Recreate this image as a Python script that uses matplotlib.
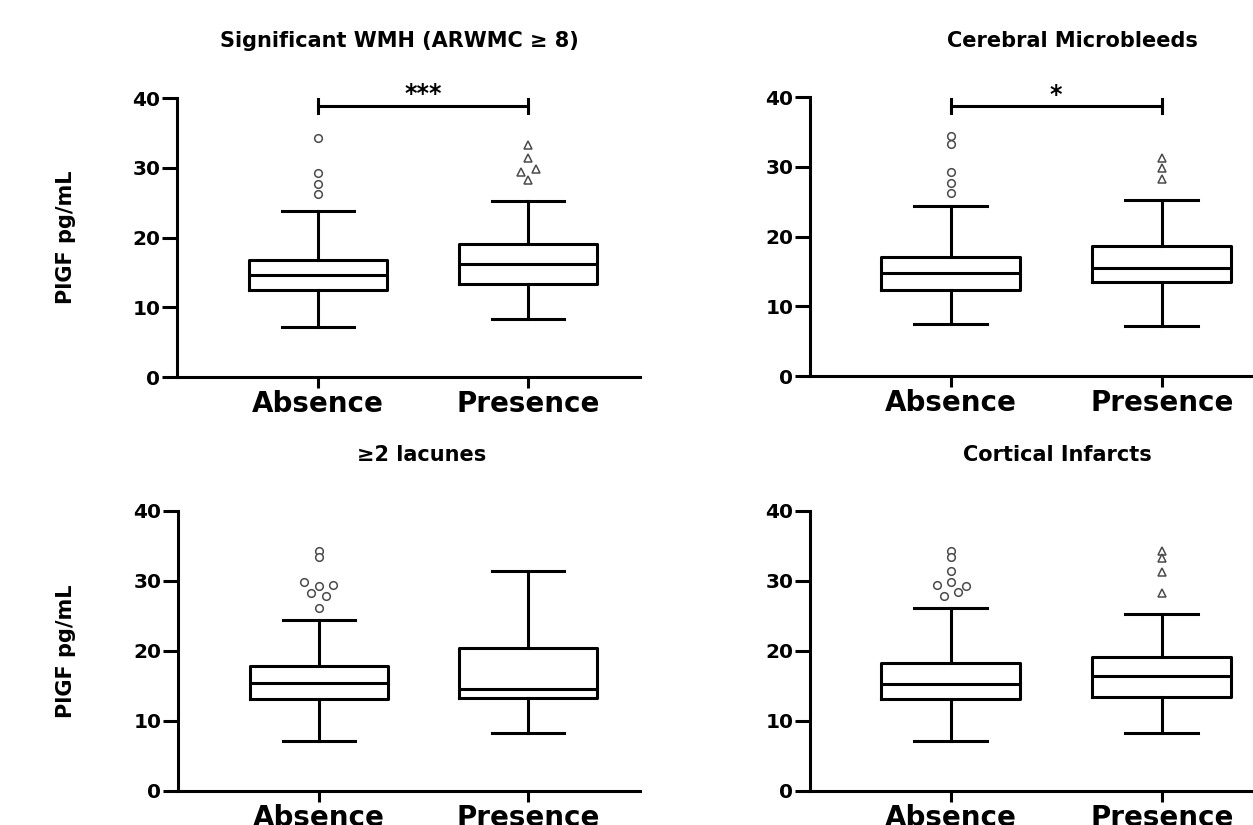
import numpy as np
import matplotlib.pyplot as plt

W, H = 1253, 825
plt.rcParams['font.family'] = ['DejaVu Sans']
plt.rcParams['font.weight'] = 'bold'

# ---------------------------------------------------------------- data
groups = ["Absence", "Presence"]
titles = ["Significant WMH (ARWMC \u2265 8)", "Cerebral Microbleeds",
          "\u22652 lacunes", "Cortical Infarcts"]
stars = ["***", "*", None, None]
sig_y = [38.9, 38.7, None, None]

# box stats per panel, [absence, presence]
q1 = [[12.5, 13.4], [12.4, 13.5], [13.1, 13.3], [13.1, 13.5]]
med = [[14.6, 16.2], [14.8, 15.5], [15.4, 14.6], [15.3, 16.5]]
q3 = [[16.8, 19.0], [17.1, 18.7], [17.9, 20.5], [18.3, 19.1]]
whislo = [[7.2, 8.3], [7.4, 7.1], [7.2, 8.3], [7.1, 8.3]]
whishi = [[23.8, 25.3], [24.4, 25.2], [24.4, 31.5], [26.2, 25.3]]
fliers = [
    [[34.3, 29.2, 27.7, 26.2], [33.3, 31.4, 29.8, 29.4, 28.3]],
    [[34.4, 33.3, 29.2, 27.6, 26.2], [31.3, 29.8, 28.2]],
    [[34.3, 33.4, 29.9, 29.5, 29.3, 28.3, 27.8, 26.2], []],
    [[34.3, 33.4, 31.5, 29.9, 29.5, 29.3, 28.4, 27.8], [34.3, 33.3, 31.3, 28.3]],
]

# ---------------------------------------------------------------- layout / style
# horizontal spread of overlapping outliers (in category units)
flier_dx = [
    [[0, 0, 0, 0], [0, 0, 0.038, -0.033, 0]],
    [[0, 0, 0, 0, 0], [0, 0, 0]],
    [[0, 0, -0.073, 0.065, 0, -0.038, 0.032, 0], []],
    [[0, 0, 0, 0, -0.066, 0.071, 0.036, -0.032], [0, 0, 0, 0]],
]
# axes in pixels: left, top, right, bottom ; category centres in pixels
rects = [(177, 98, 640, 377), (810, 97, 1314, 376),
         (178, 511, 640, 791), (810, 511, 1314, 791)]
cat_px = [(318, 528), (950.7, 1161.7), (319, 528), (950.7, 1161.7)]
title_pos = [(399, 47), (1072, 47), (422, 461), (1057, 461)]
markers = ['o', '^']
lw = 2.2

fig = plt.figure(figsize=(W / 100, H / 100), dpi=100)

for i in range(4):
    l, t, r, b = rects[i]
    c0, c1 = cat_px[i]
    ax = fig.add_axes([l / W, 1 - b / H, (r - l) / W, (b - t) / H])

    stats = []
    for g in range(2):
        stats.append({'med': med[i][g], 'q1': q1[i][g], 'q3': q3[i][g],
                      'whislo': whislo[i][g], 'whishi': whishi[i][g], 'fliers': []})
    ax.bxp(stats, positions=[0, 1], widths=0.66, capwidths=0.346, showfliers=False,
           boxprops=dict(color='black', linewidth=lw),
           whiskerprops=dict(color='black', linewidth=lw),
           capprops=dict(color='black', linewidth=lw),
           medianprops=dict(color='black', linewidth=lw, solid_capstyle='butt'))

    for g in range(2):
        if fliers[i][g]:
            xs = g + np.array(flier_dx[i][g])
            ax.plot(xs, fliers[i][g], linestyle='none', marker=markers[g],
                    markersize=5.5, markerfacecolor='white', markeredgecolor='#4a4a4a',
                    markeredgewidth=1.1, zorder=3)

    if stars[i]:
        yb = sig_y[i]
        ax.plot([0, 1], [yb, yb], color='black', lw=lw, clip_on=False)
        ax.plot([0, 0], [yb - 1.0, yb + 1.0], color='black', lw=lw, clip_on=False)
        ax.plot([1, 1], [yb - 1.0, yb + 1.0], color='black', lw=lw, clip_on=False)
        ax.text(0.5, yb + 0.6, stars[i], ha='center', va='baseline', fontsize=17,
                fontweight='bold', clip_on=False)

    ax.set_xlim((l - c0) / (c1 - c0), (r - c0) / (c1 - c0))
    ax.set_ylim(0, 40)
    ax.set_yticks([0, 10, 20, 30, 40])
    ax.set_xticks([0, 1])
    ax.set_xticklabels(groups)
    for s in ['top', 'right']:
        ax.spines[s].set_visible(False)
    for s in ['left', 'bottom']:
        ax.spines[s].set_linewidth(lw)
    ax.tick_params(axis='y', length=10.5, width=lw, pad=1.5, labelsize=14.5)
    ax.tick_params(axis='x', length=8, width=lw, pad=1, labelsize=20)

    tx, ty = title_pos[i]
    fig.text(tx / W, 1 - ty / H, titles[i], ha='center', va='baseline',
             fontsize=15, fontweight='bold')

    if i % 2 == 0:
        fig.text(66 / W, 1 - (t + b) / 2 / H, "PlGF pg/mL", rotation=90,
                 ha='center', va='center', fontsize=15, fontweight='bold')

fig.savefig("out.png", dpi=100)
